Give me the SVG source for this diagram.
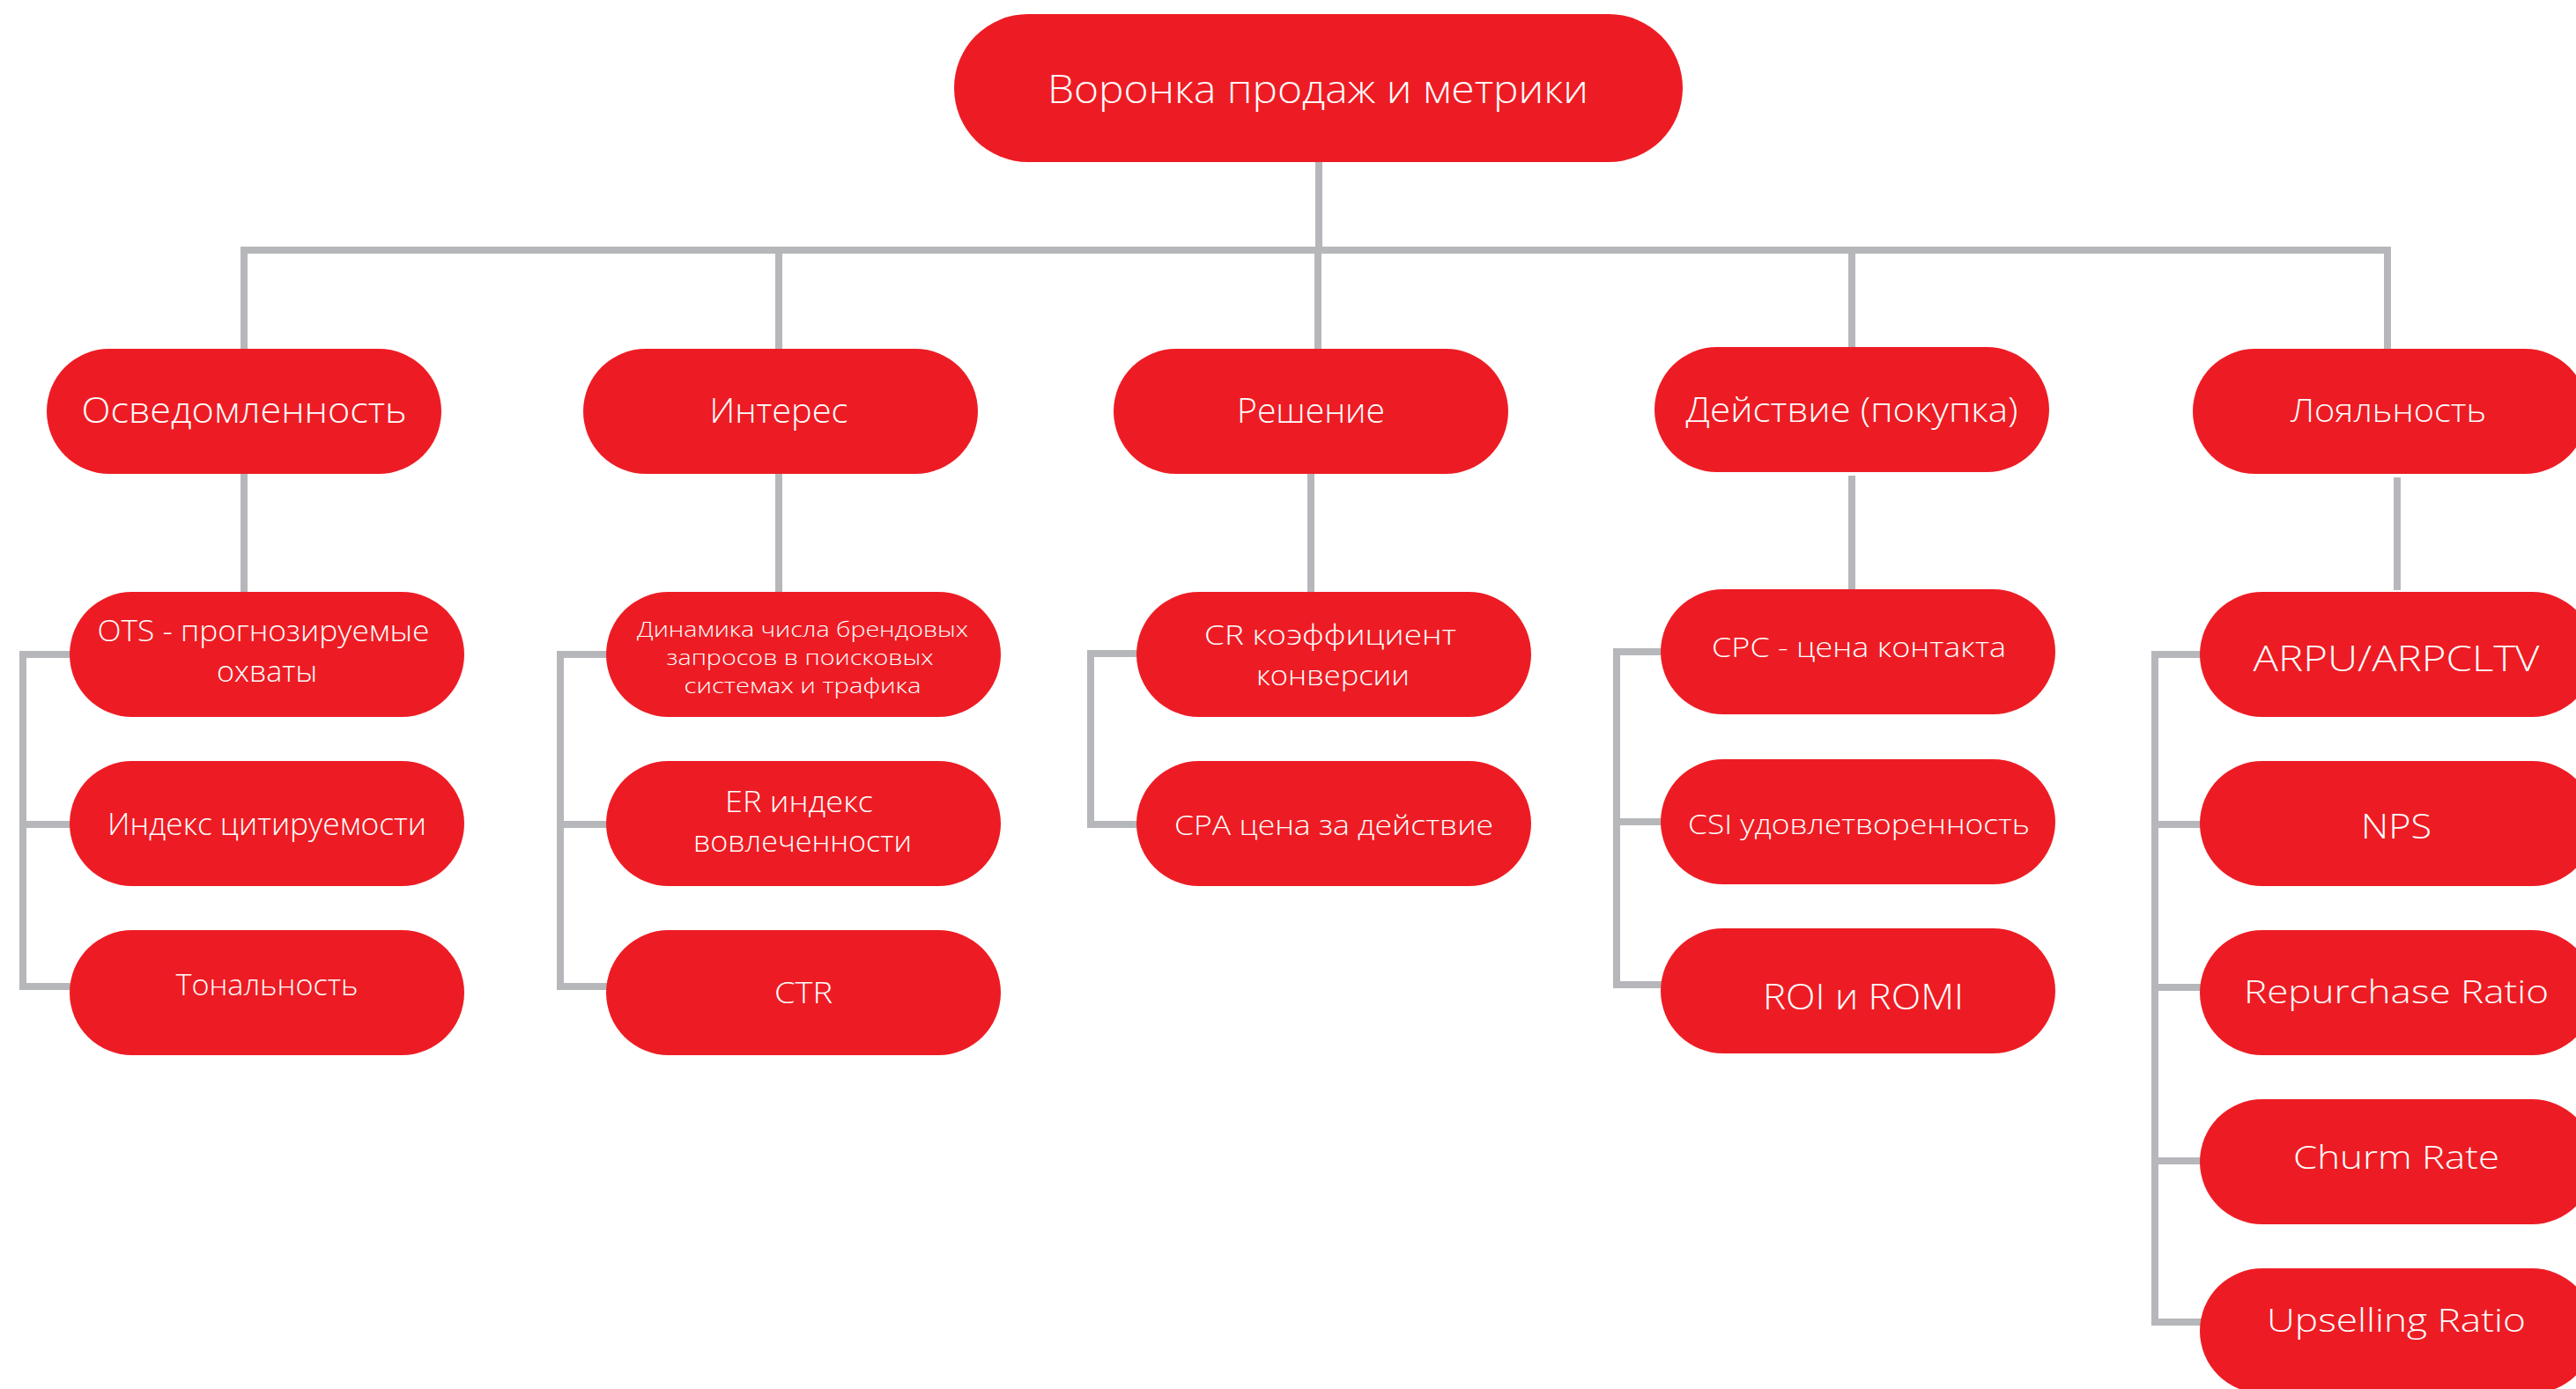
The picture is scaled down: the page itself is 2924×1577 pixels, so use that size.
<svg xmlns="http://www.w3.org/2000/svg" width="2924" height="1577" viewBox="0 0 2924 1577">
<style>
.n{fill:#ed1c24}
.t{fill:#ffffff;font-family:"Open Sans","Liberation Sans",sans-serif;font-weight:300;text-anchor:middle}
.c{stroke:#b6b7ba;fill:none;stroke-width:8;stroke-linecap:butt;stroke-linejoin:miter}
</style>
<rect width="2924" height="1577" fill="#ffffff"/>
<g id="connectors">
<path class="c" d="M1497 184V284" stroke-width="7"/>
<path class="c" d="M273 284H2714" stroke-width="7.5"/>
<path class="c" d="M277 284V396M884 284V396M1496 284V396M2102 284V394M2710 284V396"/>
<path class="c" d="M277 536V672M884 538V672M1488 538V672M2102 540V670M2721 542V670"/>
<path class="c" d="M82 743H26V1120H82M26 936H82"/>
<path class="c" d="M691 743H636V1120H691M636 936H691"/>
<path class="c" d="M1293 742H1238V936H1293"/>
<path class="c" d="M1888 740H1835V1118H1888M1835 933H1888"/>
<path class="c" d="M2500 743H2446V1501H2500M2446 936H2500M2446 1121H2500M2446 1318H2500"/>
</g>
<g id="root"><rect class="n" x="1083" y="16" width="827" height="168" rx="84"/><text class="t" x="1496" y="117" font-size="45" textLength="614" lengthAdjust="spacingAndGlyphs">Воронка продаж и метрики</text></g>
<g id="awareness"><rect class="n" x="53" y="396" width="448" height="142" rx="71"/><text class="t" x="277" y="480" font-size="40" textLength="369" lengthAdjust="spacingAndGlyphs">Осведомленность</text></g>
<g id="interest"><rect class="n" x="662" y="396" width="448" height="142" rx="71"/><text class="t" x="884" y="480" font-size="38" textLength="157" lengthAdjust="spacingAndGlyphs">Интерес</text></g>
<g id="decision"><rect class="n" x="1264" y="396" width="448" height="142" rx="71"/><text class="t" x="1488" y="480" font-size="38" textLength="168" lengthAdjust="spacingAndGlyphs">Решение</text></g>
<g id="action"><rect class="n" x="1878" y="394" width="448" height="142" rx="71"/><text class="t" x="2102" y="479" font-size="38" textLength="377" lengthAdjust="spacingAndGlyphs">Действие (покупка)</text></g>
<g id="loyalty"><rect class="n" x="2489" y="396" width="448" height="142" rx="71"/><text class="t" x="2711" y="479" font-size="36" textLength="222" lengthAdjust="spacingAndGlyphs">Лояльность</text></g>

<g id="ots"><rect class="n" x="79" y="672" width="448" height="142" rx="71"/><text class="t" x="299" y="728" font-size="33" textLength="377" lengthAdjust="spacingAndGlyphs">OTS - прогнозируемые</text><text class="t" x="303" y="774" font-size="33" textLength="114" lengthAdjust="spacingAndGlyphs">охваты</text></g>
<g id="citation"><rect class="n" x="79" y="864" width="448" height="142" rx="71"/><text class="t" x="303" y="948" font-size="34" textLength="362" lengthAdjust="spacingAndGlyphs">Индекс цитируемости</text></g>
<g id="tone"><rect class="n" x="79" y="1056" width="448" height="142" rx="71"/><text class="t" x="303" y="1130" font-size="33" textLength="207" lengthAdjust="spacingAndGlyphs">Тональность</text></g>

<g id="brand-queries"><rect class="n" x="688" y="672" width="448" height="142" rx="71"/><text class="t" x="911" y="723" font-size="23.5" textLength="376" lengthAdjust="spacingAndGlyphs">Динамика числа брендовых</text><text class="t" x="908" y="755" font-size="23.5" textLength="303" lengthAdjust="spacingAndGlyphs">запросов в поисковых</text><text class="t" x="911" y="787" font-size="23.5" textLength="269" lengthAdjust="spacingAndGlyphs">системах и трафика</text></g>
<g id="er"><rect class="n" x="688" y="864" width="448" height="142" rx="71"/><text class="t" x="907" y="922" font-size="33" textLength="168" lengthAdjust="spacingAndGlyphs">ER индекс</text><text class="t" x="911" y="967" font-size="33" textLength="248" lengthAdjust="spacingAndGlyphs">вовлеченности</text></g>
<g id="ctr"><rect class="n" x="688" y="1056" width="448" height="142" rx="71"/><text class="t" x="912" y="1139" font-size="33" textLength="66" lengthAdjust="spacingAndGlyphs">CTR</text></g>

<g id="cr"><rect class="n" x="1290" y="672" width="448" height="142" rx="71"/><text class="t" x="1510" y="732" font-size="32" textLength="286" lengthAdjust="spacingAndGlyphs">CR коэффициент</text><text class="t" x="1513" y="778" font-size="32" textLength="174" lengthAdjust="spacingAndGlyphs">конверсии</text></g>
<g id="cpa"><rect class="n" x="1290" y="864" width="448" height="142" rx="71"/><text class="t" x="1514" y="948" font-size="32" textLength="362" lengthAdjust="spacingAndGlyphs">CPA цена за действие</text></g>

<g id="cpc"><rect class="n" x="1885" y="669" width="448" height="142" rx="71"/><text class="t" x="2110" y="746" font-size="32" textLength="334" lengthAdjust="spacingAndGlyphs">CPC - цена контакта</text></g>
<g id="csi"><rect class="n" x="1885" y="862" width="448" height="142" rx="71"/><text class="t" x="2110" y="947" font-size="32" textLength="388" lengthAdjust="spacingAndGlyphs">CSI удовлетворенность</text></g>
<g id="roi"><rect class="n" x="1885" y="1054" width="448" height="142" rx="71"/><text class="t" x="2115" y="1146" font-size="40" textLength="228" lengthAdjust="spacingAndGlyphs">ROI и ROMI</text></g>

<g id="arpu"><rect class="n" x="2497" y="672" width="448" height="142" rx="71"/><text class="t" x="2720" y="762" font-size="41" textLength="325" lengthAdjust="spacingAndGlyphs">ARPU/ARPCLTV</text></g>
<g id="nps"><rect class="n" x="2497" y="864" width="448" height="142" rx="71"/><text class="t" x="2720" y="952" font-size="39" textLength="80" lengthAdjust="spacingAndGlyphs">NPS</text></g>
<g id="repurchase"><rect class="n" x="2497" y="1056" width="448" height="142" rx="71"/><text class="t" x="2720" y="1139" font-size="37" textLength="346" lengthAdjust="spacingAndGlyphs">Repurchase Ratio</text></g>
<g id="churn"><rect class="n" x="2497" y="1248" width="448" height="142" rx="71"/><text class="t" x="2720" y="1327" font-size="37" textLength="234" lengthAdjust="spacingAndGlyphs">Churm Rate</text></g>
<g id="upselling"><rect class="n" x="2497" y="1440" width="448" height="142" rx="71"/><text class="t" x="2720" y="1512" font-size="36" textLength="294" lengthAdjust="spacingAndGlyphs">Upselling Ratio</text></g>
</svg>
